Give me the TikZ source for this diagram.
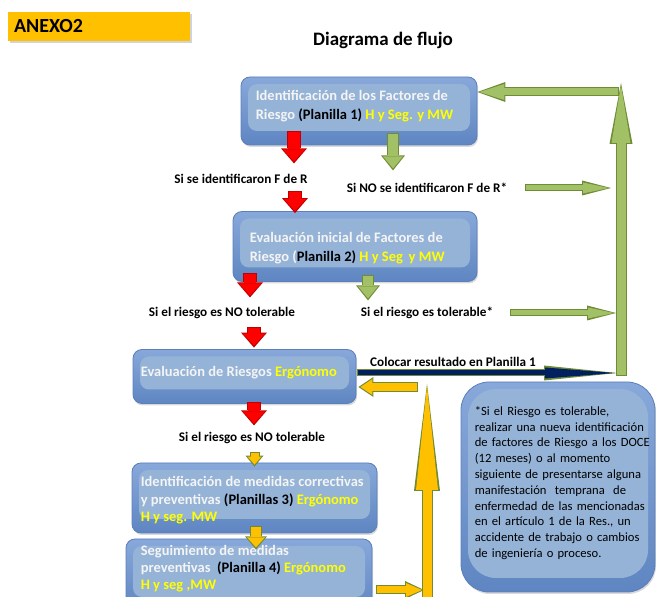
\documentclass[tikz,border=0pt]{standalone}
\usepackage{fontspec}
\setmainfont{Carlito}
\usepackage{tikz}
\usetikzlibrary{arrows.meta,calc,positioning,shadows}
\definecolor{boxtop}{HTML}{88A8DA}
\definecolor{boxbot}{HTML}{5F86C2}
\definecolor{boxedge}{HTML}{5A7FBA}
\definecolor{boxinner}{HTML}{95B3D7}
\definecolor{boxwhite}{HTML}{F4F4F4}
\definecolor{hiyellow}{HTML}{FFFF00}
\definecolor{anexo}{HTML}{FFC000}
\definecolor{redfill}{HTML}{FF0000}
\definecolor{rededge}{HTML}{C00000}
\definecolor{greenfill}{HTML}{A2C065}
\definecolor{greenedge}{HTML}{6F8B35}
\definecolor{yelfill}{HTML}{FFC000}
\definecolor{navyfill}{HTML}{002060}
\tikzstyle{every node}=[inner sep=0pt]
\tikzstyle{flowbox}=[rounded corners=9pt,draw=boxedge,line width=0.8pt,
  top color=boxtop,bottom color=boxbot,
  drop shadow={opacity=0.3,shadow xshift=1pt,shadow yshift=-2pt},
  path picture={\fill[boxinner] ([shift={(7pt,-7pt)}]path picture bounding box.north west)
    rectangle ([shift={(-7pt,14pt)}]path picture bounding box.south east);}]
\tikzstyle{boxtext}=[anchor=west,align=left,text=boxwhite,font=\fontsize{14.5}{18.5}\selectfont\bfseries]
\tikzstyle{flowlabel}=[font=\fontsize{13.2}{15}\selectfont\bfseries]
\newcommand{\blk}[1]{\textcolor{black}{#1}}
\newcommand{\ylw}[1]{\textcolor{hiyellow}{#1}}
% block arrow: fill, edge, shaft, head length, head width, path
\newcommand{\blockarrow}[6]{%
  \pgfmathsetmacro{\bsh}{#3+2}\pgfmathsetmacro{\bhl}{#4+3}\pgfmathsetmacro{\bhw}{#5+4}%
  \draw[draw=#2,line width=\bsh pt,-{Triangle[length=\bhl pt,width=\bhw pt,line width=0pt]}] #6;
  \draw[draw=#1,line width=#3pt,shorten >=2pt,shorten <=1pt,-{Triangle[length=#4pt,width=#5pt,line width=0pt]}] #6;
}

\begin{document}
\begin{tikzpicture}[x=1pt,y=1pt]
\useasboundingbox (0,0) rectangle (656,597);
\clip (0,0) rectangle (656,597);

% header
\node[fill=anexo,minimum width=182pt,minimum height=29pt,
  drop shadow={opacity=0.35,shadow xshift=2pt,shadow yshift=-2pt}] (anexo) at (99,570.5) {};
\node[anchor=west,font=\fontsize{20}{22}\selectfont\bfseries] (anexot) at ([xshift=6pt]anexo.west) {ANEXO2};
\node[font=\fontsize{19}{21}\selectfont\bfseries] (title) at (383,557) {Diagrama de flujo};

% boxes
\node[flowbox,minimum width=236pt,minimum height=68pt] (b1) at (359,486) {};
\node[boxtext,font=\fontsize{14.5}{19}\selectfont\bfseries] (b1t) at ($(b1.west)+(15,5)$)
  {Identificación de los Factores de\\Riesgo \blk{(Planilla 1)} \ylw{H y Seg. y MW}};
\node[flowbox,minimum width=244pt,minimum height=70pt] (b2) at (355,350.5) {};
\node[boxtext] (b2t) at ($(b2.west)+(17,-1.5)$)
  {Evaluación inicial de Factores de\\Riesgo (\blk{Planilla 2)} \ylw{H y Seg\, y MW}};
\node[flowbox,minimum width=223pt,minimum height=54pt] (b3) at (244.5,220.5) {};
\node[boxtext] (b3t) at ($(b3.west)+(8,3.5)$) {Evaluación de Riesgos \ylw{Ergónomo}};
\node[flowbox,minimum width=245pt,minimum height=70pt] (b4) at (254.5,99) {};
\node[boxtext,font=\fontsize{14.5}{17.5}\selectfont\bfseries] (b4t) at ($(b4.west)+(9,-2.5)$)
  {Identificación de medidas correctivas\\y preventivas \blk{(Planillas 3)} \ylw{Ergónomo}\\\ylw{H y seg. MW}};
\node[flowbox,minimum width=246pt,minimum height=72pt] (b5) at (249,22) {};
\node[boxtext,font=\fontsize{14.5}{17}\selectfont\bfseries] (b5t) at ($(b5.west)+(15,6)$)
  {Seguimiento de medidas\\preventivas\ \ \blk{(Planilla 4)} \ylw{Ergónomo}\\\ylw{H y seg ,MW}};
\node[flowbox,rounded corners=28pt,minimum width=194pt,minimum height=210pt] (n1) at (558,110) {};
\node[anchor=west,align=left,text width=176pt,font=\fontsize{12.6}{15.8}\selectfont] (n1t) at ($(n1.west)+(14,4)$)
  {*Si el Riesgo es tolerable,\\realizar una nueva identificación\\de factores de Riesgo a los DOCE\\(12 meses) o al momento\\siguiente de presentarse alguna\\manifestación\ \ temprana\ \ de\\enfermedad de las mencionadas\\en el artículo 1 de la Res., un\\accidente de trabajo o cambios\\de ingeniería o proceso.};

% labels
\node[flowlabel] (l1) at (241,418) {Si se identificaron F de R};
\node[flowlabel] (l2) at (427,409) {Si NO se identificaron F de R*};
\node[flowlabel] (l3) at (222,284) {Si el riesgo es NO tolerable};
\node[flowlabel] (l4) at (427,284) {Si el riesgo es tolerable*};
\node[flowlabel,anchor=west] (l5) at (370,235) {Colocar resultado en Planilla 1};
\node[flowlabel] (l6) at (252,159) {Si el riesgo es NO tolerable};

% return columns
\coordinate (gbot) at (621,221);
\coordinate (gtop) at (621,514);
\coordinate (ybot) at (427,-5);
\coordinate (ytop) at (427,213);

% arrows
\blockarrow{redfill}{rededge}{12}{12}{22}{($(b1.south)+(-65,14)$) -- ($(b1.south)+(-65,-18)$)}
\blockarrow{greenfill}{greenedge}{10}{12}{20}{($(b1.south)+(34,12)$) -- ($(b1.south)+(34,-25)$)}
\blockarrow{greenfill}{greenedge}{5}{26}{11}{($(l2.east)+(18,0)$) -- ($(gbot |- l2.east)+(-10,0)$)}
\blockarrow{redfill}{rededge}{12}{12}{22}{($(b2.north)+(-60,20)$) -- ($(b2.north)+(-60,-2)$)}
\blockarrow{redfill}{rededge}{12}{12}{22}{($(b2.south)+(-105,8.5)$) -- ($(b2.south)+(-105,-15.5)$)}
\blockarrow{greenfill}{greenedge}{10}{12}{20}{($(b2.south)+(13,6.5)$) -- ($(b2.south)+(13,-18.5)$)}
\blockarrow{greenfill}{greenedge}{5}{26}{11}{($(l4.east)+(17,0)$) -- ($(gbot |- l4.east)+(-5,0)$)}
\blockarrow{redfill}{rededge}{12}{12}{22}{($(b3.north)+(9.5,22.5)$) -- ($(b3.north)+(9.5,1.5)$)}
\blockarrow{navyfill}{greenedge}{5}{70}{11}{($(b3.east)+(1,3.5)$) -- ($(gbot)+(-4,3)$)}
\blockarrow{greenfill}{greenedge}{9}{58}{19}{(gbot) -- (gtop)}
\blockarrow{greenfill}{greenedge}{7}{25}{16}{($(gtop)+(-2,-9)$) -- ($(b1.east)+(0,19)$)}
\blockarrow{yelfill}{greenedge}{8}{12}{16}{($(ytop)+(-9,-3)$) -- ($(b3.east)+(2,-10.5)$)}
\blockarrow{redfill}{rededge}{12}{12}{22}{($(b3.south)+(9.5,1.5)$) -- ($(b3.south)+(9.5,-21.5)$)}
\blockarrow{yelfill}{greenedge}{8}{8}{14}{($(b4.north)+(0,11)$) -- ($(b4.north)+(0,-4)$)}
\blockarrow{yelfill}{greenedge}{10}{10}{18}{($(b4.south)+(1.5,7)$) -- ($(b4.south)+(1.5,-16)$)}
\blockarrow{yelfill}{greenedge}{7}{16}{14}{($(b5.east)+(4,-15)$) -- ($(ybot)+(-3,12)$)}
\blockarrow{yelfill}{greenedge}{9}{104}{22}{(ybot) -- (ytop)}
\end{tikzpicture}
\end{document}
